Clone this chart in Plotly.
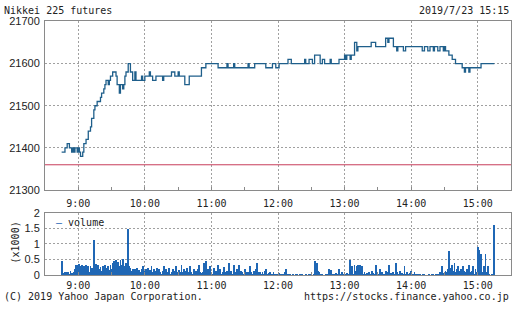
import plotly.graph_objects as go
import pandas as pd

DAY = "2019-07-23 "

# price change points (step line, hv)
price_times = [
    "08:45", "08:48", "08:50", "08:52", "08:54", "08:55", "08:56", "08:57", "08:59", "09:00",
    "09:01", "09:02", "09:04", "09:05", "09:07", "09:09", "09:11", "09:12", "09:14", "09:15",
    "09:17", "09:20", "09:21", "09:23", "09:24", "09:25", "09:27", "09:28", "09:29", "09:31",
    "09:34", "09:35", "09:37", "09:38", "09:40", "09:41", "09:42", "09:43", "09:45", "09:47",
    "09:49", "09:51", "09:52", "09:57", "09:58", "10:00", "10:04", "10:05", "10:07", "10:10",
    "10:16", "10:17", "10:24", "10:27", "10:30", "10:31", "10:36", "10:40", "10:51", "10:55",
    "11:06", "11:14", "11:15", "11:20", "11:21", "11:33", "11:34", "11:39", "11:49", "11:55",
    "11:58", "12:01", "12:09", "12:12", "12:24", "12:25", "12:28", "12:31", "12:33", "12:38",
    "12:40", "12:42", "12:47", "12:48", "12:55", "13:00", "13:01", "13:02", "13:05", "13:06",
    "13:09", "13:11", "13:12", "13:24", "13:28", "13:37", "13:39", "13:40", "13:44", "13:47",
    "13:48", "13:53", "13:55", "14:10", "14:12", "14:15", "14:17", "14:20", "14:21", "14:24",
    "14:26", "14:29", "14:30", "14:31", "14:34", "14:37", "14:40", "14:46", "14:48", "14:49",
    "14:52", "14:53", "15:03", "15:15",
]
price_values = [
    21390, 21400, 21410, 21400, 21390, 21400, 21390, 21400, 21390, 21400,
    21390, 21380, 21390, 21410, 21420, 21440, 21450, 21470, 21490, 21500,
    21510, 21520, 21530, 21540, 21550, 21560, 21550, 21560, 21570, 21580,
    21570, 21550, 21530, 21550, 21540, 21550, 21570, 21580, 21600, 21580,
    21560, 21580, 21560, 21570, 21560, 21570, 21580, 21570, 21560, 21570,
    21560, 21570, 21580, 21570, 21580, 21570, 21550, 21570, 21590, 21600,
    21590, 21600, 21590, 21600, 21590, 21600, 21590, 21600, 21590, 21600,
    21590, 21600, 21610, 21600, 21610, 21600, 21610, 21600, 21620, 21600,
    21610, 21600, 21610, 21600, 21610, 21620, 21610, 21620, 21610, 21620,
    21650, 21630, 21640, 21650, 21640, 21660, 21650, 21660, 21640, 21630,
    21640, 21630, 21640, 21630, 21640, 21630, 21640, 21630, 21640, 21630,
    21640, 21630, 21640, 21630, 21620, 21610, 21600, 21590, 21580, 21590,
    21580, 21590, 21600, 21600,
]
prev_close = 21360

# per-minute volume (x1000), 08:45 .. 15:15, one row per half hour
vol_0845 = [0.47, 0.02, 0.08, 0.1, 0.12, 0.05, 0.1, 0.03, 0.15, 0.08, 0.02, 0.1, 0.2, 0.32, 0.28,
            0.35, 0.37, 0.3, 0.33, 0.22, 0.3, 0.28, 0.35, 0.15, 0.3, 0.12, 0.3, 0.25, 0.2, 1.12]
vol_0915 = [0.3, 0.38, 0.25, 0.35, 0.2, 0.28, 0.15, 0.3, 0.22, 0.35, 0.1, 0.25, 0.3, 0.18, 0.32,
            0.2, 0.4, 0.45, 0.35, 0.5, 0.38, 0.42, 0.3, 0.48, 0.35, 0.52, 0.3, 0.25, 0.4, 0.2]
vol_0945 = [1.48, 0.3, 0.25, 0.15, 0.2, 0.1, 0.2, 0.15, 0.25, 0.1, 0.18, 0.12, 0.2, 0.3, 0.08,
            0.15, 0.22, 0.1, 0.25, 0.05, 0.18, 0.3, 0.12, 0.2, 0.08, 0.15, 0.25, 0.1, 0.2, 0.12]
vol_1015 = [0.05, 0.15, 0.3, 0.1, 0.2, 0.08, 0.12, 0.25, 0.05, 0.1, 0.2, 0.15, 0.08, 0.3, 0.1,
            0.05, 0.18, 0.12, 0.35, 0.1, 0.2, 0.05, 0.15, 0.25, 0.08, 0.12, 0.3, 0.1, 0.05, 0.2]
vol_1045 = [0.1, 0.15, 0.05, 0.2, 0.35, 0.1, 0.08, 0.12, 0.4, 0.05, 0.45, 0.1, 0.2, 0.08, 0.3,
            0.12, 0.05, 0.25, 0.1, 0.15, 0.08, 0.35, 0.1, 0.2, 0.05, 0.12, 0.28, 0.1, 0.08, 0.15]
vol_1115 = [0.1, 0.4, 0.08, 0.15, 0.05, 0.35, 0.12, 0.1, 0.2, 0.05, 0.35, 0.08, 0.15, 0.1, 0.05,
            0.2, 0.12, 0.08, 0.1, 0.05, 0.3, 0.1, 0.05, 0.15, 0.08, 0.2, 0.4, 0.1, 0.05, 0.12]
vol_1145 = [0.05, 0.1, 0.03, 0.15, 0.2, 0.05, 0.02, 0.08, 0.1, 0.03, 0.05, 0.1, 0.02, 0.0, 0.05,
            0.03, 0.08, 0.0, 0.02, 0.05, 0.03, 0.1, 0.2, 0.02, 0.0, 0.05, 0.03, 0.0, 0.02, 0.05]
vol_1215 = [0.0, 0.02, 0.03, 0.0, 0.01, 0.02, 0.0, 0.03, 0.01, 0.0, 0.02, 0.0, 0.01, 0.03, 0.0,
            0.02, 0.01, 0.05, 0.45, 0.1, 0.4, 0.15, 0.12, 0.05, 0.02, 0.03, 0.0, 0.01, 0.02, 0.03]
vol_1245 = [0.05, 0.2, 0.1, 0.18, 0.03, 0.05, 0.02, 0.08, 0.03, 0.05, 0.2, 0.02, 0.05, 0.1, 0.03,
            0.02, 0.05, 0.08, 0.02, 0.03, 0.5, 0.1, 0.3, 0.05, 0.32, 0.15, 0.3, 0.35, 0.08, 0.35]
vol_1315 = [0.1, 0.3, 0.05, 0.12, 0.03, 0.08, 0.05, 0.1, 0.02, 0.05, 0.15, 0.08, 0.05, 0.35, 0.1,
            0.03, 0.05, 0.2, 0.08, 0.1, 0.03, 0.05, 0.15, 0.02, 0.1, 0.35, 0.05, 0.08, 0.03, 0.1]
vol_1345 = [0.05, 0.4, 0.1, 0.03, 0.05, 0.15, 0.02, 0.08, 0.05, 0.3, 0.03, 0.1, 0.05, 0.02, 0.08,
            0.15, 0.03, 0.05, 0.1, 0.02, 0.05, 0.03, 0.01, 0.02, 0.0, 0.01, 0.02, 0.03, 0.01, 0.0]
vol_1415 = [0.01, 0.02, 0.0, 0.01, 0.03, 0.02, 0.01, 0.05, 0.02, 0.03, 0.05, 0.1, 0.05, 0.3, 0.08,
            0.05, 0.15, 0.1, 0.2, 0.78, 0.25, 0.1, 0.35, 0.15, 0.4, 0.1, 0.2, 0.3, 0.08, 0.15]
vol_1445 = [0.2, 0.1, 0.3, 0.15, 0.1, 0.2, 0.08, 0.35, 0.1, 0.05, 0.15, 0.3, 0.05, 0.2, 0.1,
            0.9, 0.8, 0.5, 0.7, 0.1, 0.05, 0.3, 0.7, 0.1, 0.3, 0.02, 0.01, 0.0, 0.02, 0.01]
vol_1515 = [1.62]

volume = (vol_0845 + vol_0915 + vol_0945 + vol_1015 + vol_1045 + vol_1115 + vol_1145 +
          vol_1215 + vol_1245 + vol_1315 + vol_1345 + vol_1415 + vol_1445 + vol_1515)
vol_times = pd.date_range(DAY + "08:45", periods=len(volume), freq="1min")

x_ticks = ["09:00", "10:00", "11:00", "12:00", "13:00", "14:00", "15:00"]
x_ticktext = ["9:00", "10:00", "11:00", "12:00", "13:00", "14:00", "15:00"]

W, H = 512, 310
LEFT, RIGHT = 45, 511
TOP1, BOT1 = 16, 191.5
TOP2, BOT2 = 215, 280

MONO = "DejaVu Sans Mono"
SANS = "Liberation Sans, Arial"
TXT = "#222222"
FRAME = "#8a8a8a"
GRID = "#a0a0a0"
LINE = "#1f5f8b"
BAR = "#1f67b5"

fig = go.Figure()
fig.add_trace(go.Scatter(
    x=[DAY + t for t in price_times], y=price_values, mode="lines",
    line=dict(shape="hv", color=LINE, width=1.3), xaxis="x", yaxis="y", showlegend=False))
fig.add_trace(go.Bar(
    x=vol_times, y=volume, marker=dict(color=BAR, line=dict(width=0)), width=45000,
    xaxis="x2", yaxis="y2", showlegend=False))

xr = [DAY + "08:30", DAY + "15:30"]
common_x = dict(
    type="date", range=xr, tickvals=[DAY + t for t in x_ticks], ticktext=x_ticktext,
    showgrid=True, gridcolor=GRID, griddash="2px,2px", gridwidth=1,
    showline=True, mirror=True, linecolor=FRAME, linewidth=1,
    ticks="inside", ticklen=0, tickcolor=FRAME,
    minor=dict(dtick=1800000, tick0=DAY + "08:30", ticks="inside", ticklen=3, tickcolor=FRAME, showgrid=False),
    tickfont=dict(family=MONO, size=10, color=TXT), zeroline=False, fixedrange=True,
    domain=[LEFT / W, RIGHT / W],
)
fig.update_layout(
    width=W, height=H, margin=dict(l=0, r=0, t=0, b=0),
    paper_bgcolor="white", plot_bgcolor="white", bargap=0,
    xaxis=dict(common_x, anchor="y", ticklabelstandoff=4),
    xaxis2=dict(common_x, anchor="y2", ticklabelstandoff=1),
    yaxis=dict(
        domain=[1 - BOT1 / H, 1 - TOP1 / H], range=[21300, 21700], dtick=100, tick0=21300,
        tickformat="d",
        showgrid=True, gridcolor=GRID, griddash="2px,2px", showline=True, mirror=True,
        linecolor=FRAME, ticks="", tickfont=dict(family=SANS, size=11, color=TXT),
        zeroline=False, anchor="x", ticklabelstandoff=2,
    ),
    yaxis2=dict(
        domain=[1 - BOT2 / H, 1 - TOP2 / H], range=[0, 2], dtick=0.5, tick0=0,
        showgrid=True, gridcolor=GRID, griddash="2px,2px", showline=True, mirror=True,
        linecolor=FRAME, ticks="", tickfont=dict(family=SANS, size=11, color=TXT),
        zeroline=False, anchor="x2", ticklabelstandoff=2,
    ),
)
fig.add_shape(type="line", xref="x domain", yref="y", x0=0, x1=1, y0=prev_close, y1=prev_close,
              line=dict(color="#c83c5a", width=1))

ann = [
    dict(text="Nikkei 225 futures", x=3 / W, y=1 - 5 / H, xanchor="left"),
    dict(text="2019/7/23 15:15", x=510 / W, y=1 - 5 / H, xanchor="right"),
    dict(text="(C) 2019 Yahoo Japan Corporation.", x=3 / W, y=1 - 302 / H, xanchor="left"),
    dict(text="https://stocks.finance.yahoo.co.jp", x=510 / W, y=1 - 302 / H, xanchor="right"),
    dict(text="(x1000)", x=15 / W, y=1 - 246 / H, xanchor="center", textangle=-90),
    dict(text="<span style='color:%s'>\u2014</span> volume" % BAR, x=55 / W, y=1 - 225 / H, xanchor="left"),
]
for a in ann:
    fig.add_annotation(xref="paper", yref="paper", showarrow=False, yanchor="middle",
                       font=dict(family=MONO, size=10, color=TXT), borderpad=0, **a)

fig.write_html("out.html")
